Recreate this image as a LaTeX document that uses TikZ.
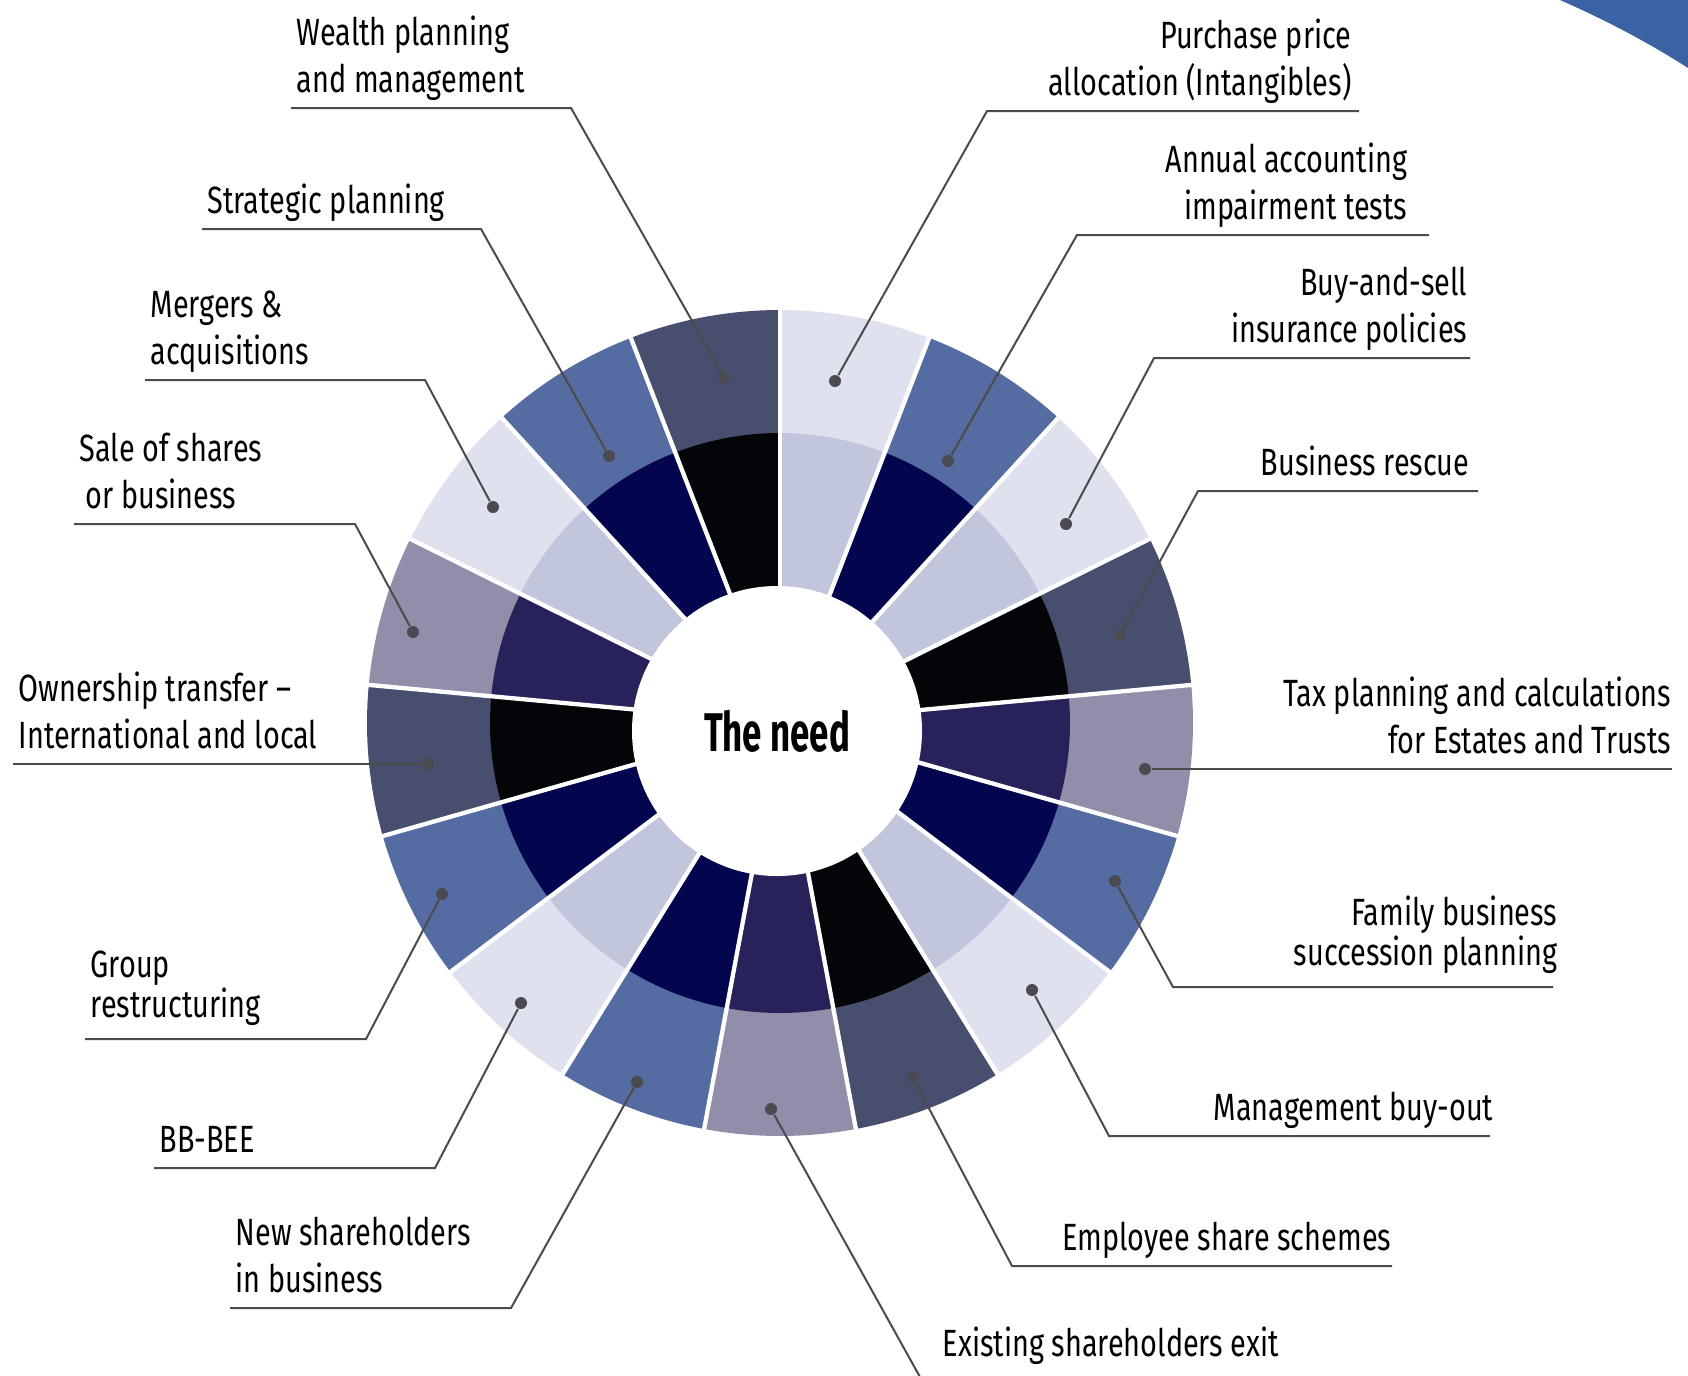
\documentclass[tikz,border=0pt]{standalone}
\usepackage{fontspec}
\setmainfont{Fira Sans}[FakeStretch=0.76]
\newfontfamily\needfont{Fira Sans}[FakeStretch=0.64]
\usetikzlibrary{calc,positioning}
\definecolor{pale}{HTML}{DFE1EE}
\definecolor{paleinner}{HTML}{C2C6DD}
\definecolor{steel}{HTML}{556CA3}
\definecolor{navy}{HTML}{03054E}
\definecolor{slate}{HTML}{474E6E}
\definecolor{ink}{HTML}{040508}
\definecolor{heather}{HTML}{918EA9}
\definecolor{plum}{HTML}{27225A}
\definecolor{arcblue}{HTML}{3B63A4}
\definecolor{leadgray}{HTML}{4B4B4B}
\definecolor{dotgray}{HTML}{4A4B50}
\tikzstyle{lbl} = [font=\fontsize{10.8}{13.3}\selectfont, inner xsep=.05cm, inner ysep=.01cm, execute at end node=\strut]
\tikzstyle{tight} = [font=\fontsize{10.8}{11.2}\selectfont, inner ysep=.095cm]
\tikzstyle{lleft} = [lbl, anchor=south west, align=left]
\tikzstyle{lright} = [lbl, anchor=south east, align=right, inner xsep=.03cm]
\tikzstyle{spot} = [circle, fill=dotgray, inner sep=0pt, minimum size=.12cm]
\tikzstyle{leader} = [draw, line width=.02cm, color=leadgray]
\tikzstyle{gap} = [draw=white, line width=.043cm]

\begin{document}
\begin{tikzpicture}[x=.1mm, y=-.1mm]
  \useasboundingbox (0,0) rectangle (1688,1375);
  \fill[arcblue] (1560,0) .. controls (1603,19) and (1646,41) .. (1688,68) -- (1688,0) -- cycle;
  \coordinate (O) at (780,723);
  % wheel, clockwise from the top
  \foreach \oc/\ic [count=\k from 0] in {pale/paleinner, steel/navy, pale/paleinner, slate/ink,
      heather/plum, steel/navy, pale/paleinner, slate/ink, heather/plum, steel/navy, pale/paleinner,
      steel/navy, slate/ink, heather/plum, pale/paleinner, steel/navy, slate/ink}{
    \pgfmathsetmacro\a{-90+\k*360/17}
    \pgfmathsetmacro\b{\a+360/17}
    \fill[\oc] (O) -- ++(\a:413) arc[start angle=\a, end angle=\b, radius=413] -- cycle;
    \fill[\ic] (O) -- ++(\a:290) arc[start angle=\a, end angle=\b, radius=290] -- cycle;
  }
  \foreach \k in {0,...,16}
    \draw[gap] (O) -- ++(-90+\k*360/17:420);
  \fill[white] (777,731) circle (145);
  \node[font=\needfont\bfseries\fontsize{15.5}{16}\selectfont] (need) at (777,731) {The need};

  % left side
  \node[lleft] (wealth) at (291,108) {Wealth planning\\and management};
  \coordinate (wealth-e) at (571,108);
  \node[spot] (wealth-d) at (724,377) {};
  \draw[leader] (wealth.south west) -- (wealth-e) -- (wealth-d);

  \node[lleft] (strat) at (202,229) {Strategic planning};
  \coordinate (strat-e) at (481,229);
  \node[spot] (strat-d) at (609,456) {};
  \draw[leader] (strat.south west) -- (strat-e) -- (strat-d);

  \node[lleft] (merge) at (145,380) {Mergers \&\\acquisitions};
  \coordinate (merge-e) at (425,380);
  \node[spot] (merge-d) at (493,507) {};
  \draw[leader] (merge.south west) -- (merge-e) -- (merge-d);

  \node[lleft] (sale) at (74,524) {Sale of shares\\\hspace*{.06cm}or business};
  \coordinate (sale-e) at (355,524);
  \node[spot] (sale-d) at (413,632) {};
  \draw[leader] (sale.south west) -- (sale-e) -- (sale-d);

  \node[lleft] (owner) at (13,764) {Ownership transfer --\\International and local};
  \node[spot] (owner-d) at (428,764) {};
  \draw[leader] (owner.south west) -- (owner-d);

  \node[lleft, tight] (group) at (85,1039) {Group\\restructuring};
  \coordinate (group-e) at (366,1039);
  \node[spot] (group-d) at (442,894) {};
  \draw[leader] (group.south west) -- (group-e) -- (group-d);

  \node[lleft] (bee) at (154,1168) {BB-BEE};
  \coordinate (bee-e) at (435,1168);
  \node[spot] (bee-d) at (521,1003) {};
  \draw[leader] (bee.south west) -- (bee-e) -- (bee-d);

  \node[lleft] (newsh) at (230,1308) {New shareholders\\in business};
  \coordinate (newsh-e) at (511,1308);
  \node[spot] (newsh-d) at (637,1082) {};
  \draw[leader] (newsh.south west) -- (newsh-e) -- (newsh-d);

  % bottom and right side
  \node[lleft, inner ysep=.06cm] (exit) at (937,1377) {Existing shareholders exit};
  \coordinate (exit-e) at (920,1377);
  \node[spot] (exit-d) at (771,1109) {};
  \draw[leader] (exit-d) -- (exit-e) -- (exit.south west);

  \node[lright, inner xsep=0cm] (empl) at (1392,1266) {Employee share schemes};
  \coordinate (empl-e) at (1012,1266);
  \node[spot] (empl-d) at (913,1078) {};
  \draw[leader] (empl-d) -- (empl-e) -- (empl.south east);

  \node[lright, inner xsep=-.04cm] (mbo) at (1490,1136) {Management buy-out};
  \coordinate (mbo-e) at (1109,1136);
  \node[spot] (mbo-d) at (1032,990) {};
  \draw[leader] (mbo-d) -- (mbo-e) -- (mbo.south east);

  \node[lright, tight, inner xsep=-.05cm] (family) at (1553,987) {Family business\\succession planning};
  \coordinate (family-e) at (1173,987);
  \node[spot] (family-d) at (1115,881) {};
  \draw[leader] (family-d) -- (family-e) -- (family.south east);

  \node[lright, inner xsep=0cm] (tax) at (1672,769) {Tax planning and calculations\\for Estates and Trusts};
  \node[spot] (tax-d) at (1145,769) {};
  \draw[leader] (tax-d) -- (tax.south east);

  \node[lright, inner xsep=.08cm] (rescue) at (1478,491) {Business rescue};
  \coordinate (rescue-e) at (1198,491);
  \node[spot] (rescue-d) at (1120,635) {};
  \draw[leader] (rescue-d) -- (rescue-e) -- (rescue.south east);

  \node[lright, inner xsep=.02cm] (buysell) at (1470,358) {Buy-and-sell\\insurance policies};
  \coordinate (buysell-e) at (1154,358);
  \node[spot] (buysell-d) at (1066,524) {};
  \draw[leader] (buysell-d) -- (buysell-e) -- (buysell.south east);

  \node[lright, inner xsep=.21cm] (annual) at (1429,235) {Annual accounting\\impairment tests};
  \coordinate (annual-e) at (1077,235);
  \node[spot] (annual-d) at (948,461) {};
  \draw[leader] (annual-d) -- (annual-e) -- (annual.south east);

  \node[lright, inner xsep=.07cm] (ppa) at (1359,111) {Purchase price\\allocation (Intangibles)};
  \coordinate (ppa-e) at (987,111);
  \node[spot] (ppa-d) at (835,381) {};
  \draw[leader] (ppa-d) -- (ppa-e) -- (ppa.south east);
\end{tikzpicture}
\end{document}
